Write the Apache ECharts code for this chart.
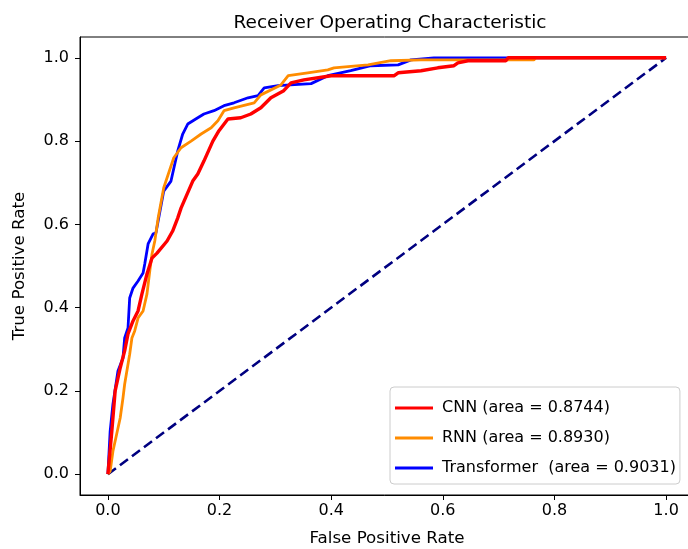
<!DOCTYPE html>
<html>
<head>
<meta charset="utf-8">
<script src="https://cdn.jsdelivr.net/npm/echarts@6/dist/echarts.min.js"></script>
<style>html,body{margin:0;padding:0;background:#fff}#c{width:688px;height:549px}</style>
</head>
<body>
<div id="c"></div>
<script>
var tickValues = [0, 0.2, 0.4, 0.6, 0.8, 1.0];
var seriesNames = ['CNN (area = 0.8744)', 'RNN (area = 0.8930)', 'Transformer  (area = 0.9031)'];

var cnnFpr = [0,0.007,0.013,0.022,0.030,0.036,0.045,0.054,0.061,0.070,0.079,0.088,0.106,0.116,0.125,0.131,0.152,0.161,0.172,0.188,0.199,0.215,0.238,0.256,0.274,0.292,0.315,0.328,0.351,0.400,0.513,0.520,0.561,0.591,0.620,0.627,0.645,0.713,0.717,1.0];
var cnnTpr = [0,0.103,0.200,0.255,0.296,0.337,0.368,0.392,0.433,0.481,0.519,0.531,0.560,0.584,0.615,0.639,0.704,0.721,0.752,0.800,0.825,0.853,0.856,0.865,0.880,0.904,0.921,0.940,0.947,0.957,0.957,0.964,0.969,0.976,0.981,0.988,0.993,0.993,1.0,1.0];

var rnnFpr = [0,0.004,0.009,0.022,0.027,0.030,0.039,0.043,0.048,0.054,0.063,0.070,0.075,0.079,0.084,0.090,0.100,0.118,0.131,0.149,0.167,0.185,0.197,0.208,0.226,0.262,0.274,0.310,0.323,0.358,0.394,0.405,0.466,0.507,0.561,0.763,0.767,1.0];
var rnnTpr = [0,0.007,0.055,0.135,0.183,0.216,0.288,0.327,0.344,0.375,0.392,0.433,0.488,0.529,0.560,0.615,0.688,0.760,0.784,0.800,0.817,0.832,0.849,0.873,0.880,0.892,0.911,0.935,0.957,0.964,0.971,0.976,0.983,0.993,0.995,0.995,1.0,1.0];

var trFpr = [0,0.004,0.009,0.018,0.027,0.030,0.036,0.039,0.045,0.054,0.063,0.066,0.072,0.081,0.086,0.091,0.100,0.113,0.125,0.134,0.143,0.161,0.172,0.190,0.208,0.226,0.251,0.269,0.280,0.305,0.364,0.394,0.435,0.471,0.520,0.543,0.584,1.0];
var trTpr = [0,0.103,0.168,0.248,0.279,0.327,0.351,0.423,0.447,0.464,0.483,0.505,0.553,0.577,0.579,0.615,0.680,0.704,0.776,0.817,0.841,0.856,0.865,0.873,0.885,0.892,0.904,0.909,0.928,0.933,0.938,0.957,0.969,0.981,0.983,0.995,1.0,1.0];

var diagX = [0, 1];
var diagY = [0, 1];

function zip(a, b) { return a.map(function (v, i) { return [v, b[i]]; }); }

var chart = echarts.init(document.getElementById('c'), null, {renderer: 'canvas'});
var txt = 'DejaVu Sans';
var num = 'DejaVu Sans';
chart.setOption({
  animation: false,
  backgroundColor: '#fff',
  title: {
    text: 'Receiver Operating Characteristic',
    left: 385, top: 9, textAlign: 'center',
    textStyle: {fontFamily: txt, fontSize: 18.5, fontWeight: 'normal', color: '#000'}
  },
  grid: {left: 80, right: -6, top: 37, bottom: 54, outerBoundsMode: 'none', containLabel: false,
    show: true, borderColor: '#000', borderWidth: 1},
  xAxis: {
    type: 'value', min: -0.05, max: 1.05,
    name: 'False Positive Rate', nameLocation: 'middle', nameGap: 35,
    nameTextStyle: {fontFamily: txt, fontSize: 16.7, color: '#000'},
    axisLine: {show: true, onZero: false, lineStyle: {color: '#000', width: 1}},
    axisTick: {show: true, length: 5, lineStyle: {color: '#000'}, customValues: tickValues},
    axisLabel: {fontFamily: num, fontSize: 16, color: '#000', margin: 8, customValues: tickValues,
      formatter: function (v) { return v.toFixed(1); }},
    splitLine: {show: false}
  },
  yAxis: {
    type: 'value', min: -0.05, max: 1.05,
    name: 'True Positive Rate', nameLocation: 'middle', nameGap: 52, nameRotate: 90,
    nameTextStyle: {fontFamily: txt, fontSize: 16.7, color: '#000'},
    axisLine: {show: true, onZero: false, lineStyle: {color: '#000', width: 1}},
    axisTick: {show: true, length: 5, lineStyle: {color: '#000'}, customValues: tickValues},
    axisLabel: {fontFamily: num, fontSize: 16, color: '#000', margin: 11, customValues: tickValues,
      formatter: function (v) { return v.toFixed(1); }},
    splitLine: {show: false}
  },
  legend: {
    orient: 'vertical', left: 390, top: 387,
    data: seriesNames,
    icon: 'rect', itemWidth: 38, itemHeight: 3, itemGap: 10,
    textStyle: {fontFamily: txt, fontSize: 16, color: '#000', lineHeight: 20, padding: [0, 0, 0, 4]},
    backgroundColor: 'rgba(255,255,255,0.85)', borderColor: '#cccccc', borderWidth: 1, borderRadius: 4,
    padding: [11, 4, 6, 5]
  },
  series: [
    {type: 'line', name: 'diag', data: zip(diagX, diagY), symbol: 'none', silent: true,
      lineStyle: {color: '#000080', width: 2.6, type: [10, 5]}, z: 1},
    {type: 'line', name: seriesNames[2], data: zip(trFpr, trTpr), symbol: 'none', color: '#0000ff',
      lineStyle: {color: '#0000ff', width: 2.8}, z: 2},
    {type: 'line', name: seriesNames[1], data: zip(rnnFpr, rnnTpr), symbol: 'none', color: '#ff8c00',
      lineStyle: {color: '#ff8c00', width: 2.8}, z: 3},
    {type: 'line', name: seriesNames[0], data: zip(cnnFpr, cnnTpr), symbol: 'none', color: '#ff0000',
      lineStyle: {color: '#ff0000', width: 3.4}, z: 4}
  ]
});
</script>
</body>
</html>
